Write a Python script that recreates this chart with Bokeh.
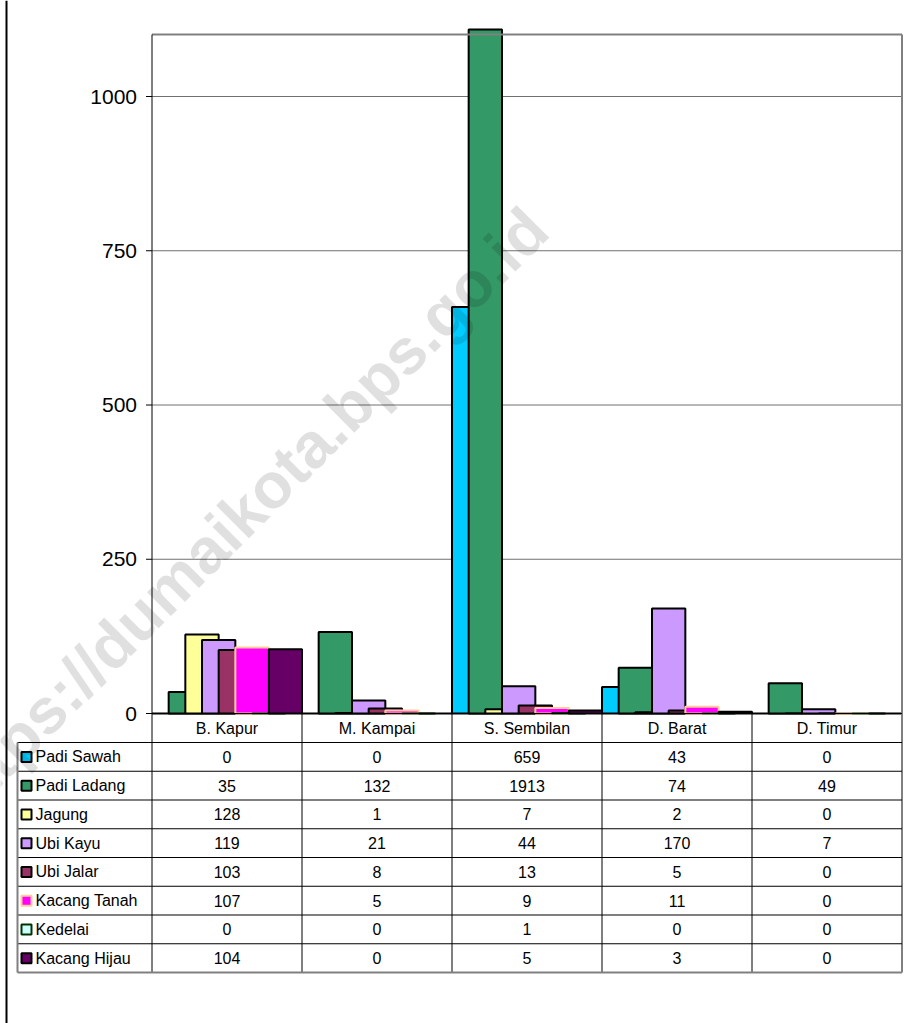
from bokeh.plotting import figure
from bokeh.models import ColumnDataSource, Range1d
from bokeh.transform import dodge
from bokeh.core.properties import value
from bokeh.embed import file_html
from bokeh.resources import INLINE

# ---------------- data ----------------
categories = ["B. Kapur", "M. Kampai", "S. Sembilan", "D. Barat", "D. Timur"]
series_names = ["Padi Sawah", "Padi Ladang", "Jagung", "Ubi Kayu",
                "Ubi Jalar", "Kacang Tanah", "Kedelai", "Kacang Hijau"]
padi_sawah = [0, 0, 659, 43, 0]
padi_ladang = [35, 132, 1913, 74, 49]
jagung = [128, 1, 7, 2, 0]
ubi_kayu = [119, 21, 44, 170, 7]
ubi_jalar = [103, 8, 13, 5, 0]
kacang_tanah = [107, 5, 9, 11, 0]
kedelai = [0, 0, 1, 0, 0]
kacang_hijau = [104, 0, 5, 3, 0]
y_ticks = [0, 250, 500, 750, 1000]
y_tick_labels = ["0", "250", "500", "750", "1000"]
watermark = "https://dumaikota.bps.go.id"

series_values = [padi_sawah, padi_ladang, jagung, ubi_kayu,
                 ubi_jalar, kacang_tanah, kedelai, kacang_hijau]

# ---------------- styles / geometry ----------------
fill_colors = ["#00CCFF", "#339966", "#FFFF99", "#CC99FF",
               "#993366", "#FF00FF", "#CCFFFF", "#660066"]
line_colors = ["#000000", "#000000", "#000000", "#000000",
               "#000000", "#FFCC99", "#003300", "#000000"]
FONT = value("Liberation Sans")

W, H = 909, 1023
CAT0_PX = 151.5       # left edge of first category (px)
CAT_PX = 150          # width of one category (px)
ZERO_PX = 713         # y pixel of value 0
PX_PER_UNIT = 0.617   # px per value unit
TOP_PX = 34           # plot-area top
ROW0_PX = 742         # first table row top
ROW_PX = 28.75


def xpx(px):
    return (px - CAT0_PX) / CAT_PX


def ypx(px):
    return (ZERO_PX - px) / PX_PER_UNIT


p = figure(width=W, height=H,
           x_range=Range1d(xpx(0), xpx(W)),
           y_range=Range1d(ypx(H), ypx(0)),
           x_axis_location=None, y_axis_location=None,
           toolbar_location=None, output_backend="svg", min_border=0)
p.title.visible = False
p.grid.visible = False
p.outline_line_color = None
p.background_fill_color = "white"
p.border_fill_color = "white"

ncat = len(categories)
nrows = len(series_names)
y_top = ypx(TOP_PX)
y_clip = ypx(TOP_PX - 5)
table_bottom = ypx(ROW0_PX + nrows * ROW_PX)

# page frame line on the left
p.segment(x0=[xpx(6)], y0=[ypx(H)], x1=[xpx(6)], y1=[ypx(0)],
          line_color="black", line_width=2)

# gridlines
p.segment(x0=[0] * len(y_ticks), y0=y_ticks, x1=[ncat] * len(y_ticks), y1=y_ticks,
          line_color="#707070", line_width=1)

# bars
centers = [i + 0.5 for i in range(ncat)]
step = 1.0 / (nrows + 1)
for i, (name, vals) in enumerate(zip(series_names, series_values)):
    src = ColumnDataSource(dict(c=centers, v=[min(v, y_clip) for v in vals]))
    p.vbar(x=dodge("c", (i - (nrows - 1) / 2) * step), top="v", bottom=0,
           width=2 * step, source=src,
           fill_color=fill_colors[i], line_color=line_colors[i], line_width=2)

# plot area border (grey top/right), zero line, left axis line
p.segment(x0=[0], y0=[y_top], x1=[ncat], y1=[y_top], line_color="#808080", line_width=2)
p.segment(x0=[ncat], y0=[y_top], x1=[ncat], y1=[table_bottom], line_color="#808080", line_width=2)
p.segment(x0=[0], y0=[0], x1=[ncat], y1=[0], line_color="black", line_width=1)
p.segment(x0=[0], y0=[y_top], x1=[0], y1=[table_bottom], line_color="black", line_width=1)

# y ticks and labels
p.segment(x0=[xpx(CAT0_PX - 6)] * len(y_ticks), y0=y_ticks,
          x1=[0] * len(y_ticks), y1=y_ticks, line_color="black", line_width=1)
p.text(x=[xpx(136.5)] * len(y_ticks), y=y_ticks, text=y_tick_labels,
       text_align="right", text_baseline="middle",
       text_font=FONT, text_font_size="21px", text_color="black")

# header row: category names + separators
p.text(x=centers, y=[ypx((ZERO_PX + ROW0_PX) / 2 + 0.5)] * ncat, text=categories,
       text_align="center", text_baseline="middle",
       text_font=FONT, text_font_size="16px", text_color="black")
seps = list(range(1, ncat))
p.segment(x0=seps, y0=[0] * len(seps), x1=seps, y1=[table_bottom] * len(seps),
          line_color="black", line_width=1)

# table grid
tab_left = xpx(17)
row_lines = [ypx(ROW0_PX + k * ROW_PX) for k in range(nrows)]
p.segment(x0=[tab_left] * nrows, y0=row_lines, x1=[ncat] * nrows, y1=row_lines,
          line_color="black", line_width=1)
p.segment(x0=[tab_left, tab_left], y0=[table_bottom, row_lines[0]],
          x1=[ncat, tab_left], y1=[table_bottom, table_bottom],
          line_color="#808080", line_width=2)

# legend keys + row labels
row_centers = [ypx(ROW0_PX + (k + 0.5) * ROW_PX) for k in range(nrows)]
key_lines = ["#000000"] * 5 + ["#FFCC99", "#003300", "#000000"]
p.scatter(x=[xpx(26)] * nrows, y=row_centers, marker="square", size=10,
          fill_color=fill_colors, line_color=key_lines, line_width=2)
p.text(x=[xpx(35)] * nrows, y=row_centers, text=series_names,
       text_align="left", text_baseline="middle",
       text_font=FONT, text_font_size="16px", text_color="black")

# cell values
cx, cy, ct = [], [], []
for r, vals in enumerate(series_values):
    for c, v in enumerate(vals):
        cx.append(centers[c])
        cy.append(row_centers[r])
        ct.append(str(v))
p.text(x=cx, y=cy, text=ct, text_align="center", text_baseline="middle",
       text_font=FONT, text_font_size="16px", text_color="black")

# watermark
p.text(x=[xpx(241)], y=[ypx(514)], text=[watermark], angle=45, angle_units="deg",
       text_align="center", text_baseline="middle",
       text_font=FONT, text_font_size="64px", text_font_style="bold",
       text_color="black", text_alpha=0.12)

open("out.html", "w").write(file_html(p, INLINE))
